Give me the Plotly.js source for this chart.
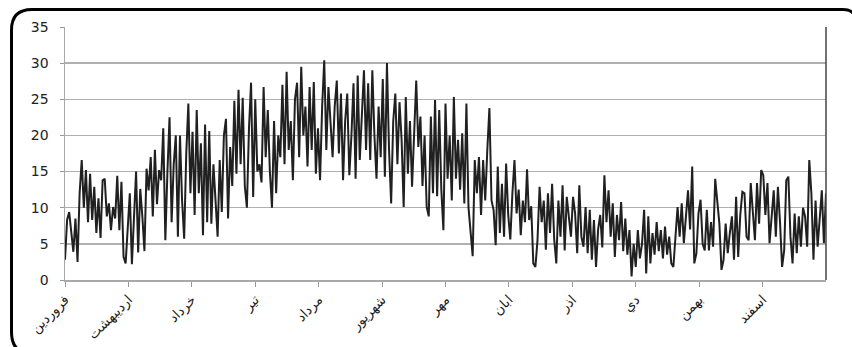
<!DOCTYPE html>
<html>
<head>
<meta charset="utf-8">
<script src="https://cdn.plot.ly/plotly-3.0.1.min.js"></script>
<style>
  html, body { margin: 0; padding: 0; background: #ffffff; }
  #chart { width: 852px; height: 347px; }
</style>
</head>
<body>
<div id="chart"></div>
<script>
// Tick labels (Persian months)
const monthLabels = ["فروردین", "اردیبهشت", "خرداد", "تیر", "مرداد", "شهریور", "مهر", "ابان", "اذر", "دي", "بهمن", "اسفند"];

// Daily values, in chunks of consecutive days
const part1 = [2.8, 8.3, 9.4, 6.9, 3.9, 8.5, 2.5, 12.0, 16.6, 10.0, 15.2, 8.0, 14.7, 8.3, 12.9, 6.5, 11.3, 5.8, 13.8, 14.0, 8.8, 10.6, 6.9, 10.1, 8.5, 14.4, 6.9, 13.6, 3.2, 2.3, 7.8];
const part2 = [12.0, 2.2, 9.0, 15.0, 3.8, 12.6, 8.8, 4.0, 15.4, 12.4, 17.0, 8.8, 18.0, 10.5, 15.2, 13.8, 21.0, 5.5, 15.0, 22.5, 8.0, 16.0, 20.0, 6.0, 20.0, 11.0, 5.7, 17.5, 24.4, 12.0, 20.5];
const part3 = [9.0, 23.5, 12.0, 18.9, 6.2, 21.5, 8.0, 20.6, 7.8, 16.0, 11.0, 6.0, 16.6, 9.4, 20.0, 22.3, 8.5, 18.4, 13.0, 24.8, 14.7, 26.3, 16.0, 25.2, 13.0, 10.0, 21.0, 27.3, 11.5, 25.0, 15.0];
const part4 = [16.0, 13.5, 26.7, 17.0, 23.5, 15.0, 10.0, 22.0, 12.0, 20.0, 17.0, 27.0, 16.0, 28.8, 18.0, 22.0, 13.8, 25.0, 27.3, 17.0, 29.5, 20.0, 24.0, 15.7, 26.7, 18.0, 27.4, 14.7, 21.0, 13.8, 24.0];
const part5 = [30.4, 18.0, 26.7, 22.0, 17.0, 24.0, 27.6, 17.5, 25.8, 13.8, 22.0, 25.8, 14.5, 20.0, 27.2, 14.0, 28.3, 16.6, 24.0, 29.0, 18.0, 27.2, 16.6, 29.0, 20.0, 14.0, 24.0, 17.0, 27.8, 14.3, 30.0];
const part6 = [18.0, 10.6, 22.0, 25.8, 16.0, 24.6, 19.4, 10.1, 25.3, 14.7, 22.0, 12.9, 20.0, 27.6, 18.4, 22.6, 13.0, 20.0, 10.1, 8.8, 22.6, 12.0, 24.9, 11.6, 23.5, 12.5, 6.9, 24.4, 14.0, 20.0, 11.0];
const part7 = [25.3, 14.0, 19.4, 12.5, 20.3, 10.6, 24.4, 10.0, 6.1, 3.3, 16.6, 12.0, 17.0, 9.0, 16.6, 11.0, 18.0, 23.8, 11.0, 9.7, 4.8, 15.7, 6.5, 13.3, 6.0, 16.1, 9.0, 5.6, 12.0, 16.6];
const part8 = [9.2, 12.5, 6.2, 11.0, 8.0, 15.3, 8.3, 10.2, 2.3, 1.8, 5.5, 12.9, 8.0, 11.0, 4.2, 12.0, 6.5, 13.3, 5.6, 2.3, 11.0, 6.0, 13.1, 4.1, 11.5, 8.3, 6.0, 11.5, 9.2, 3.7];
const part9 = [13.1, 6.0, 4.6, 10.1, 3.7, 9.7, 2.8, 8.3, 1.8, 7.0, 9.0, 4.5, 14.5, 8.0, 12.4, 6.0, 10.6, 3.2, 9.0, 5.5, 10.8, 4.0, 8.5, 3.5, 6.9, 0.5, 5.0, 1.8, 6.9, 3.0];
const part10 = [5.0, 9.7, 0.9, 8.8, 2.3, 6.5, 3.5, 8.0, 4.0, 6.9, 3.0, 7.4, 3.5, 6.0, 2.3, 1.8, 5.5, 10.1, 6.0, 10.6, 5.1, 9.5, 12.4, 7.0, 15.7, 2.3, 3.7, 9.2, 11.1, 5.0];
const part11 = [4.1, 9.7, 4.1, 8.0, 4.6, 14.0, 11.1, 7.8, 1.4, 2.8, 7.8, 3.7, 6.5, 8.8, 2.8, 11.5, 3.2, 9.0, 12.2, 12.0, 6.0, 5.5, 13.4, 9.0, 5.5, 13.4, 7.8, 15.2, 14.5, 9.0];
const part12 = [13.4, 5.1, 8.3, 12.4, 6.0, 12.9, 8.0, 1.8, 4.1, 13.8, 14.3, 6.0, 2.3, 9.2, 3.7, 8.8, 4.6, 10.0, 8.8, 4.6, 16.6, 12.0, 2.8, 11.0, 4.6, 9.0, 12.4, 5.1, 12.0];

const values = [].concat(part1, part2, part3, part4, part5, part6, part7, part8, part9, part10, part11, part12);
const days = values.map((v, i) => i);
const lastDay = values.length - 1;
const tickPositions = monthLabels.map((m, k) => k * lastDay / 12);

// Plot-area pixel geometry (for converting the decorative frame to paper units)
const W = 852, H = 347;
const M = { l: 65, r: 26, t: 27, b: 67 };
const pw = W - M.l - M.r, ph = H - M.t - M.b;
const px = x => ((x - M.l) / pw).toFixed(5);
const py = y => ((H - M.b - y) / ph).toFixed(5);
const P = (x, y) => px(x) + "," + py(y);
const framePath = "M" + P(33, 354) + " Q" + P(11.5, 354) + " " + P(11.5, 332) +
  " L" + P(11.5, 30) + " Q" + P(11.5, 9.5) + " " + P(32, 9.5) +
  " L" + P(843, 9.5) + " Q" + P(856, 9.5) + " " + P(856, 22.5) +
  " L" + P(856, 354) + " Z";

const trace = {
  x: days,
  y: values,
  type: "scatter",
  mode: "lines",
  line: { color: "#202020", width: 2 },
  hoverinfo: "skip"
};

const layout = {
  width: W,
  height: H,
  margin: M,
  paper_bgcolor: "#ffffff",
  plot_bgcolor: "#ffffff",
  showlegend: false,
  xaxis: {
    range: [0, lastDay],
    tickmode: "array",
    tickvals: tickPositions,
    ticktext: monthLabels,
    tickangle: -45,
    ticks: "outside",
    ticklen: 5,
    tickwidth: 1,
    tickcolor: "#999999",
    showgrid: false,
    zeroline: false,
    showline: true,
    linecolor: "#a8a8a8",
    linewidth: 1.5,
    tickfont: { family: "DejaVu Sans", size: 13.5, color: "#222222" },
    fixedrange: true
  },
  yaxis: {
    range: [0, 35],
    tick0: 0,
    dtick: 5,
    ticks: "outside",
    ticklen: 4,
    tickcolor: "#999999",
    showgrid: true,
    gridcolor: "#b0b0b0",
    gridwidth: 1.5,
    zeroline: false,
    showline: true,
    linecolor: "#a8a8a8",
    linewidth: 1.5,
    ticklabelstandoff: 8,
    tickfont: { family: "DejaVu Sans", size: 14, color: "#222222" },
    fixedrange: true
  },
  shapes: [
    { type: "line", xref: "paper", yref: "paper", x0: 1, x1: 1, y0: 0, y1: 1,
      line: { color: "#444444", width: 1.5 } },
    { type: "path", xref: "paper", yref: "paper", path: framePath,
      line: { color: "#000000", width: 3 }, fillcolor: "rgba(0,0,0,0)", layer: "above" }
  ]
};

Plotly.newPlot("chart", [trace], layout, { staticPlot: true, displayModeBar: false });
</script>
</body>
</html>
